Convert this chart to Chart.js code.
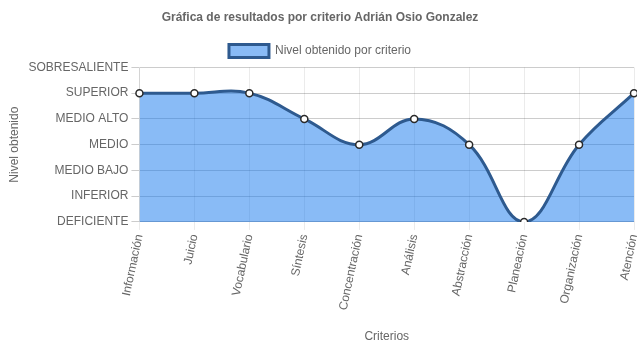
<!DOCTYPE html>
<html>
<head>
<meta charset="utf-8">
<script src="https://cdn.jsdelivr.net/npm/chart.js@4"></script>
<style>
  html, body { margin: 0; padding: 0; background: #fff; }
  #wrap { width: 637px; height: 348px; }
</style>
</head>
<body>
<div id="wrap"><canvas id="lineChart"></canvas></div>
<script>
const criterios = ['Información', 'Juicio', 'Vocabulario', 'Síntesis', 'Concentración', 'Análisis', 'Abstracción', 'Planeación', 'Organización', 'Atención'];
const niveles = ['DEFICIENTE', 'INFERIOR', 'MEDIO BAJO', 'MEDIO', 'MEDIO ALTO', 'SUPERIOR', 'SOBRESALIENTE'];
const valores = [5, 5, 5, 4, 3, 4, 3, 0, 3, 5];

Chart.defaults.font.family = '"Liberation Sans", Arial, sans-serif';
Chart.defaults.font.size = 12;
Chart.defaults.color = '#666';

const ctx = document.getElementById('lineChart').getContext('2d');
const chart = new Chart(ctx, {
  type: 'line',
  data: {
    labels: criterios,
    datasets: [{
      label: 'Nivel obtenido por criterio',
      data: valores,
      borderColor: '#2e5a8f',
      backgroundColor: 'rgba(20, 120, 238, 0.5)',
      borderWidth: 3,
      tension: 0.4,
      fill: true,
      pointRadius: 3.5,
      pointBorderWidth: 1.5,
      pointBackgroundColor: '#fff',
      pointBorderColor: '#2a2a2a'
    }]
  },
  options: {
    responsive: true,
    maintainAspectRatio: false,
    animation: false,
    layout: { autoPadding: false, padding: { left: 3, right: 0 } },
    scales: {
      y: {
        min: 0,
        max: 6,
        ticks: {
          stepSize: 1,
          callback: function (value) { return niveles[value]; }
        },
        grid: { color: 'rgba(0,0,0,0.2)' },
        title: { display: true, text: 'Nivel obtenido' }
      },
      x: {
        ticks: { minRotation: 78, maxRotation: 78 },
        grid: { color: 'rgba(0,0,0,0.08)' },
        title: { display: true, text: 'Criterios', padding: { top: 15 } },
        afterFit: function (scale) { scale.paddingRight = 3; }
      }
    },
    plugins: {
      title: {
        display: true,
        text: 'Gráfica de resultados por criterio Adrián Osio Gonzalez',
        font: { size: 12, weight: 'bold' },
        padding: { top: 10, bottom: 14 }
      },
      legend: {
        labels: { boxWidth: 40, boxHeight: 13, padding: 6 }
      }
    }
  }
});
</script>
</body>
</html>
